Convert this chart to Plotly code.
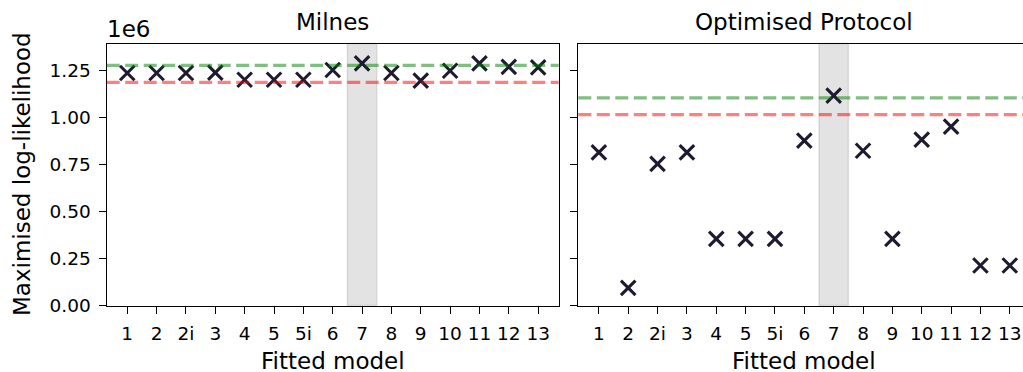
import plotly.graph_objects as go

# ---- data ----
models = ["1", "2", "2i", "3", "4", "5", "5i", "6", "7", "8", "9", "10", "11", "12", "13"]
milnes_ll = [1.238e6, 1.238e6, 1.238e6, 1.240e6, 1.202e6, 1.202e6, 1.202e6, 1.254e6,
             1.289e6, 1.238e6, 1.197e6, 1.250e6, 1.289e6, 1.271e6, 1.268e6]
optimised_ll = [0.815e6, 0.094e6, 0.754e6, 0.815e6, 0.355e6, 0.355e6, 0.355e6, 0.878e6,
                1.117e6, 0.824e6, 0.355e6, 0.883e6, 0.952e6, 0.213e6, 0.213e6]
milnes_green = 1.278e6
milnes_red = 1.188e6
optimised_green = 1.105e6
optimised_red = 1.016e6
highlight_model = "7"
ytick_vals = [0, 0.25e6, 0.5e6, 0.75e6, 1.0e6, 1.25e6]
ytick_text = ["0.00", "0.25", "0.50", "0.75", "1.00", "1.25"]
panel_titles = ["Milnes", "Optimised Protocol"]

W = 1023
H = 382          # rendered page appears compressed to 372 px tall
VS = 372 / H
FONT = "DejaVu Sans"
TICK_FS = 18.5
LABEL_FS = 23
MARKER_COLOR = "#1f1a30"


def py(px):
    return 1 - (px / VS) / H


def pxx(px):
    return px / W


fig = go.Figure()

for i, vals in enumerate([milnes_ll, optimised_ll]):
    xa = "x" if i == 0 else "x2"
    ya = "y" if i == 0 else "y2"
    fig.add_trace(go.Scatter(
        x=models, y=vals, xaxis=xa, yaxis=ya, mode="markers",
        marker=dict(symbol="x-thin", size=14.5, color=MARKER_COLOR,
                    line=dict(width=3.1, color=MARKER_COLOR)),
        showlegend=False, cliponaxis=False, hoverinfo="x+y",
    ))

hl = models.index(highlight_model)
for i, (g, r) in enumerate([(milnes_green, milnes_red), (optimised_green, optimised_red)]):
    xr = "x" if i == 0 else "x2"
    yr = "y" if i == 0 else "y2"
    fig.add_shape(type="rect", xref=xr, yref=yr + " domain", x0=hl - 0.5, x1=hl + 0.5,
                  y0=0, y1=1, fillcolor="rgba(128,128,128,0.22)",
                  line=dict(color="rgba(128,128,128,0.22)", width=1.5), layer="below")
    fig.add_shape(type="line", xref=xr + " domain", yref=yr, x0=0, x1=1, y0=g, y1=g,
                  line=dict(color="rgba(0,128,0,0.5)", width=3.2, dash="13px,5.5px"),
                  layer="above")
    fig.add_shape(type="line", xref=xr + " domain", yref=yr, x0=0, x1=1, y0=r, y1=r,
                  line=dict(color="rgba(255,0,0,0.5)", width=3.2, dash="13px,5.5px"),
                  layer="above")

ydom = [py(305.5), py(43.5)]
yrange = [0, 1.395e6]
axis_common = dict(showgrid=False, zeroline=False, showline=True, linecolor="black",
                   linewidth=1.4, ticks="outside", ticklen=7, tickwidth=1.4,
                   tickcolor="black", tickfont=dict(family=FONT, size=TICK_FS, color="black"))

fig.update_layout(
    width=W, height=H, margin=dict(l=0, r=0, t=0, b=0),
    paper_bgcolor="white", plot_bgcolor="white",
    font=dict(family=FONT, color="black"),
    xaxis=dict(domain=[pxx(106.7), pxx(558.7)], range=[-0.7, 14.7], type="category",
               categoryorder="array", categoryarray=models, mirror=True,
               ticklabelstandoff=4, anchor="y", **axis_common),
    yaxis=dict(domain=ydom, range=yrange, tickvals=ytick_vals, ticktext=ytick_text,
               mirror=True, ticklabelstandoff=4, anchor="x", **axis_common),
    xaxis2=dict(domain=[pxx(578.3), 1.0], range=[-0.7, 14.45], type="category",
                categoryorder="array", categoryarray=models, mirror=True,
                ticklabelstandoff=4, anchor="y2", **axis_common),
    yaxis2=dict(domain=ydom, range=yrange, tickvals=ytick_vals, showticklabels=False,
                mirror=False, anchor="x2", **axis_common),
)

ann = []
# panel titles
ann.append(dict(text=panel_titles[0], x=pxx((106.7 + 558.7) / 2), y=py(22), xref="paper", yref="paper",
                xanchor="center", yanchor="middle", showarrow=False,
                font=dict(family=FONT, size=LABEL_FS, color="black")))
ann.append(dict(text=panel_titles[1], x=pxx((578.3 + 1030) / 2), y=py(22), xref="paper", yref="paper",
                xanchor="center", yanchor="middle", showarrow=False,
                font=dict(family=FONT, size=LABEL_FS, color="black")))
# offset text
ann.append(dict(text="1e6", x=pxx(104.5), y=py(28.5), xref="paper", yref="paper",
                xanchor="left", yanchor="middle", showarrow=False,
                font=dict(family=FONT, size=LABEL_FS, color="black")))
# x labels
for cx in [(106.7 + 558.7) / 2, (578.3 + 1030) / 2]:
    ann.append(dict(text="Fitted model", x=pxx(cx), y=py(361), xref="paper", yref="paper",
                    xanchor="center", yanchor="middle", showarrow=False,
                    font=dict(family=FONT, size=LABEL_FS, color="black")))
# y label
ann.append(dict(text="Maximised log-likelihood", x=pxx(22.5), y=py(174.5), xref="paper", yref="paper",
                xanchor="center", yanchor="middle", showarrow=False, textangle=-90,
                font=dict(family=FONT, size=LABEL_FS, color="black")))
fig.update_layout(annotations=ann)

post = (
    "var gd=document.getElementById('{plot_id}');"
    "gd.style.position='fixed';gd.style.left='0px';gd.style.top='0px';"
    "document.body.style.margin='0';"
    "document.documentElement.style.overflow='hidden';"
    "document.body.style.overflow='hidden';"
)
fig.write_html("out.html", post_script=post, config={"displayModeBar": False})
